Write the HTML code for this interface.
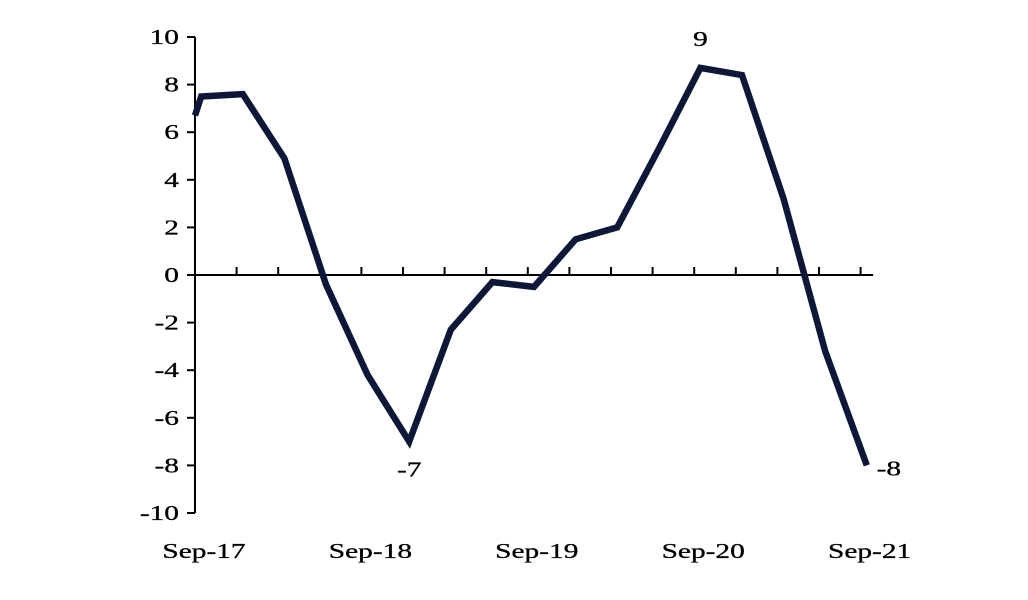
<!DOCTYPE html>
<html><head><meta charset="utf-8"><style>
body{margin:0;background:#fff;}
svg{display:block;font-family:"Liberation Serif",serif;}
</style></head><body>
<svg id="chart" width="1028" height="600"></svg>
<script>
const xPos = [0, 0.15, 1.15, 2.15, 3.15, 4.15, 5.15, 6.15, 7.15, 8.15, 9.15, 10.15, 11.15, 12.15, 13.15, 14.15, 15.15, 16.15];
const values = [6.7, 7.5, 7.6, 4.9, -0.4, -4.2, -7.0, -2.3, -0.3, -0.5, 1.5, 2.0, 5.3, 8.7, 8.4, 3.2, -3.2, -8.0];
const yTicks = [10, 8, 6, 4, 2, 0, -2, -4, -6, -8, -10];
const xLabels = ["Sep-17", "Sep-18", "Sep-19", "Sep-20", "Sep-21"];
const annotations = [{i: 13, text: "9", dx: 0, dy: -22}, {i: 6, text: "-7", dx: 0, dy: 35}, {i: 17, text: "-8", dx: 22, dy: 10}];

const svg = document.getElementById('chart');
const NS = 'http://www.w3.org/2000/svg';
const x0 = 195, qW = 41.6, yTop = 37, yBot = 513;
const xS = q => x0 + q * qW;
const yS = v => yTop + (10 - v) / 20 * (yBot - yTop);
function mk(tag, attrs, parent) { const e = document.createElementNS(NS, tag); for (const k in attrs) e.setAttribute(k, attrs[k]); (parent || svg).appendChild(e); return e; }
function txt(x, y, anchor, s) {
  const t = mk('text', {transform: 'translate(' + x + ',' + y + ') scale(1.4,1)', 'text-anchor': anchor, 'font-size': 21, fill: '#000', stroke: '#000', 'stroke-width': 0.3});
  t.textContent = s;
  return t;
}

const yAxis = mk('line', {x1: x0, x2: x0, y1: yTop, y2: yBot, stroke: '#000', 'stroke-width': 2});


yTicks.forEach(t => {
  const y = yS(t);
  const tk = mk('line', {x1: x0 - 8, x2: x0, y1: y, y2: y, stroke: '#000', 'stroke-width': 2});
  
  
  const tx = txt(x0 - 16, y + 7, 'end', t);
  
  
});
const xAxis = mk('line', {x1: x0, x2: xS(16.3), y1: yS(0), y2: yS(0), stroke: '#000', 'stroke-width': 2});


for (let q = 0; q <= 16; q++) {
  const x = xS(q);
  const tk = mk('line', {x1: x, x2: x, y1: yS(0) - 8, y2: yS(0), stroke: '#000', 'stroke-width': 2});
  
  
}
xLabels.forEach((l, i) => {
  const tx = txt(xS(i * 4) + 9, 558, 'middle', l);
  
  
});
const pts = values.map((v, i) => xS(xPos[i]).toFixed(1) + ',' + yS(v).toFixed(1)).join(' ');
const line = mk('polyline', {points: pts, fill: 'none', stroke: '#0d1838', 'stroke-width': 6.5, 'stroke-linejoin': 'miter', 'stroke-linecap': 'butt'});


annotations.forEach(a => {
  const tx = txt(xS(xPos[a.i]) + a.dx, yS(values[a.i]) + a.dy, 'middle', a.text);
  
  
});
</script>
</body></html>
